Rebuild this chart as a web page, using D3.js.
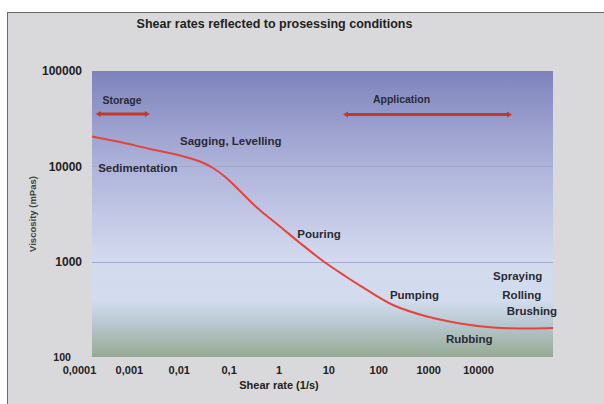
<!DOCTYPE html>
<html>
<head>
<meta charset="utf-8">
<script src="https://cdn.jsdelivr.net/npm/d3@7"></script>
<style>
  html, body { margin: 0; padding: 0; background: #ffffff; }
  svg { display: block; font-family: "Liberation Sans", Arial, sans-serif; }
</style>
</head>
<body>
<svg id="chart" width="604" height="404"></svg>
<script>
// Shear rate (1/s) and viscosity (mPas) along the flow curve
const shearRate = [0.0001, 0.000306, 0.001015, 0.00337, 0.00748, 0.0126, 0.0211, 0.037, 0.0598, 0.0891, 0.183, 0.407, 1.02, 2.46, 4.48, 16.7, 65, 243, 910, 3540, 10000];
const viscosity = [20560, 17990, 15200, 13000, 11240, 9610, 7640, 5510, 4125, 3320, 2340, 1570, 1016, 708, 562, 351, 266, 225, 204, 199, 201];

// Axis tick labels
const xTickLabels = ["0,0001", "0,001", "0,01", "0,1", "1", "10", "100", "1000", "10000"];
const yTicks = [100, 1000, 10000, 100000];
const yGrid = [1000, 10000];

// Processing ranges drawn as double-headed arrows
const rangeNames = ["Storage", "Application"];
const rangeFrom = [0.000116, 2.27];
const rangeTo = [0.00101, 1945];
const rangeViscosity = [35400, 34900];

// Process annotations: shear rate and viscosity at each label's start
const noteNames = ["Sagging, Levelling", "Sedimentation", "Pouring", "Pumping", "Spraying", "Rolling", "Brushing", "Rubbing"];
const noteRate = [0.00337, 0.000128, 0.366, 14.8, 910, 1320, 1570, 139];
const noteVisc = [16750, 8790, 1758, 403, 643, 406, 276, 141];

const svg = d3.select("#chart");
const W = 604, H = 404;
const plot = { left: 92, right: 553, top: 71, bottom: 357 };

// Outer panel
svg.append("rect").attr("x", 7.5).attr("y", 12.5).attr("width", W).attr("height", H)
  .attr("fill", "#d9d9db").attr("stroke", "#6b6b6b").attr("stroke-width", 1);

const defs = svg.append("defs");
const grad = defs.append("linearGradient").attr("id", "bg").attr("x1", 0).attr("y1", 0).attr("x2", 0).attr("y2", 1);
[[0, "#7e83bd"], [0.33, "#aeb3da"], [0.66, "#d3daef"], [0.8, "#d2dced"], [0.88, "#b9c9d2"], [1, "#97a994"]]
  .forEach(([o, c]) => grad.append("stop").attr("offset", o).attr("stop-color", c));

const x = d3.scaleLog().domain([1e-4, 1e4]).range([plot.left, plot.right]);
const y = d3.scaleLog().domain([100, 100000]).range([plot.bottom, plot.top]);

// Plot background
svg.append("rect").attr("x", plot.left).attr("y", plot.top)
  .attr("width", plot.right - plot.left).attr("height", plot.bottom - plot.top)
  .attr("fill", "url(#bg)");

// Horizontal gridlines
svg.append("g").selectAll("line").data(yGrid).join("line")
  .attr("x1", plot.left).attr("x2", plot.right)
  .attr("y1", d => Math.round(y(d)) + 0.5).attr("y2", d => Math.round(y(d)) + 0.5)
  .attr("stroke", "#a4aacb").attr("stroke-width", 1.2);

// Title
svg.append("text").attr("x", 274.5).attr("y", 28).attr("text-anchor", "middle")
  .attr("font-size", 12.5).attr("font-weight", "bold").attr("fill", "#222")
  .text("Shear rates reflected to prosessing conditions");

// Y axis (labels only)
const yAxis = d3.axisLeft(y).tickValues(yTicks).tickFormat(d3.format("d")).tickSize(0).tickPadding(0);
const gy = svg.append("g").attr("transform", `translate(82,0)`).call(yAxis);
gy.select(".domain").remove();
gy.selectAll("text").attr("font-weight", "bold").attr("fill", "#222")
  .attr("font-family", "Liberation Sans, Arial, sans-serif")
  .attr("font-size", d => d === 100 ? 10.6 : 12)
  .attr("dx", d => d === 100 ? -11 : 0);

// X axis labels evenly spaced below the plot
const xLab = d3.scalePoint().domain(xTickLabels).range([79, 478]);
const xAxis = d3.axisBottom(xLab).tickSize(0).tickPadding(0);
const gx = svg.append("g").attr("transform", `translate(0,366)`).call(xAxis);
gx.select(".domain").remove();
gx.selectAll("text").attr("font-size", 11).attr("font-weight", "bold").attr("fill", "#222")
  .attr("font-family", "Liberation Sans, Arial, sans-serif");

// Axis titles
svg.append("text").attr("x", 279).attr("y", 389).attr("text-anchor", "middle")
  .attr("font-size", 11).attr("font-weight", "bold").attr("fill", "#222")
  .text("Shear rate (1/s)");
svg.append("text").attr("transform", "translate(36,214) rotate(-90)").attr("text-anchor", "middle")
  .attr("font-size", 9.5).attr("font-weight", "bold").attr("fill", "#444")
  .text("Viscosity (mPas)");

// Flow curve
const pts = shearRate.map((s, i) => [s, viscosity[i]]);
const line = d3.line().x(d => x(d[0])).y(d => y(d[1])).curve(d3.curveCatmullRom.alpha(0.5));
svg.append("path").datum(pts).attr("d", line)
  .attr("fill", "none").attr("stroke", "#e5443a").attr("stroke-width", 2);

// Range arrows with heads at both ends
const arrowColor = "#c0392b";
rangeNames.forEach((name, i) => {
  const x1 = x(rangeFrom[i]), x2 = x(rangeTo[i]), yy = y(rangeViscosity[i]);
  const g = svg.append("g");
  g.append("line").attr("x1", x1 + 3).attr("x2", x2 - 3).attr("y1", yy).attr("y2", yy)
    .attr("stroke", arrowColor).attr("stroke-width", 3);
  g.append("path").attr("d", `M${x1},${yy} l5,-3 l0,6 Z`).attr("fill", arrowColor);
  g.append("path").attr("d", `M${x2},${yy} l-5,-3 l0,6 Z`).attr("fill", arrowColor);
});
// Range titles
const rangeLabelX = [122, 401.5];
const rangeLabelY = [104, 103];
rangeNames.forEach((name, i) => {
  svg.append("text").attr("x", rangeLabelX[i]).attr("y", rangeLabelY[i]).attr("text-anchor", "middle")
    .attr("font-size", 10.5).attr("font-weight", "bold").attr("fill", "#2a2a35").text(name);
});

// Process annotations
svg.append("g").selectAll("text").data(noteNames).join("text")
  .attr("x", (d, i) => x(noteRate[i]))
  .attr("y", (d, i) => y(noteVisc[i]))
  .attr("font-size", 11.5).attr("font-weight", "bold").attr("fill", "#2a2a35")
  .text(d => d);
</script>
</body>
</html>
